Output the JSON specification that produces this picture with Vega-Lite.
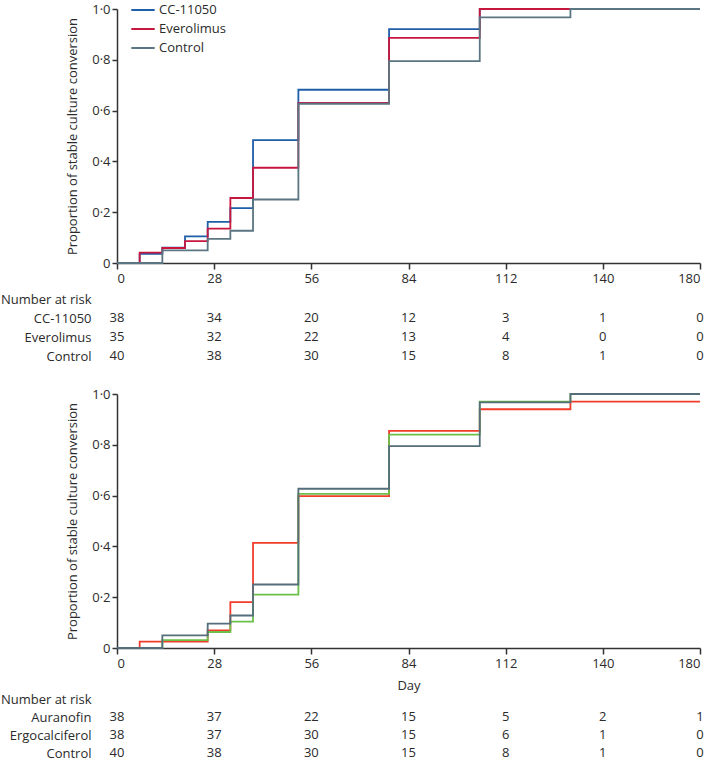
{
  "$schema": "https://vega.github.io/schema/vega-lite/v6.json",
  "padding": {"left": 0, "top": 2, "right": 2, "bottom": 0},
  "bounds": "flush",
  "spacing": 10,
  "config": {
    "view": {"stroke": null},
    "font": "Open Sans",
    "axis": {
      "labelFont": "Open Sans", "titleFont": "Open Sans",
      "labelFontSize": 13, "titleFontSize": 13,
      "labelColor": "#2b2b2b", "titleColor": "#2b2b2b",
      "titleFontWeight": "normal",
      "domainColor": "#333333", "tickColor": "#333333",
      "domainWidth": 1.5, "tickWidth": 1.5, "grid": false
    },
    "legend": {
      "labelFont": "Open Sans", "labelFontSize": 13, "labelColor": "#2b2b2b",
      "orient": "none", "legendX": 18.5, "legendY": -6.5,
      "symbolType": "M-1.8,0H1.8", "symbolSize": 169, "symbolStrokeWidth": 2,
      "rowPadding": 4, "padding": 0, "labelOffset": 8.5, "title": null
    }
  },
  "resolve": {
    "scale": {"x": "independent", "y": "independent", "color": "independent", "stroke": "independent"},
    "legend": {"color": "independent", "stroke": "independent"}
  },
  "datasets": {
    "top": [
      {"group": "CC-11050", "day": 0, "proportion": 0},
      {"group": "CC-11050", "day": 7, "proportion": 0.036},
      {"group": "CC-11050", "day": 14, "proportion": 0.06},
      {"group": "CC-11050", "day": 21, "proportion": 0.105},
      {"group": "CC-11050", "day": 28, "proportion": 0.162},
      {"group": "CC-11050", "day": 35, "proportion": 0.216},
      {"group": "CC-11050", "day": 42, "proportion": 0.484},
      {"group": "CC-11050", "day": 56, "proportion": 0.682},
      {"group": "CC-11050", "day": 84, "proportion": 0.921},
      {"group": "CC-11050", "day": 112, "proportion": 1.0},
      {"group": "CC-11050", "day": 180, "proportion": 1.0},
      {"group": "Everolimus", "day": 0, "proportion": 0},
      {"group": "Everolimus", "day": 7, "proportion": 0.041},
      {"group": "Everolimus", "day": 14, "proportion": 0.059},
      {"group": "Everolimus", "day": 21, "proportion": 0.086},
      {"group": "Everolimus", "day": 28, "proportion": 0.135},
      {"group": "Everolimus", "day": 35, "proportion": 0.256},
      {"group": "Everolimus", "day": 42, "proportion": 0.375},
      {"group": "Everolimus", "day": 56, "proportion": 0.63},
      {"group": "Everolimus", "day": 84, "proportion": 0.886},
      {"group": "Everolimus", "day": 112, "proportion": 1.0},
      {"group": "Everolimus", "day": 180, "proportion": 1.0},
      {"group": "Control", "day": 0, "proportion": 0},
      {"group": "Control", "day": 14, "proportion": 0.05},
      {"group": "Control", "day": 28, "proportion": 0.095},
      {"group": "Control", "day": 35, "proportion": 0.127},
      {"group": "Control", "day": 42, "proportion": 0.25},
      {"group": "Control", "day": 56, "proportion": 0.627},
      {"group": "Control", "day": 84, "proportion": 0.795},
      {"group": "Control", "day": 112, "proportion": 0.967},
      {"group": "Control", "day": 140, "proportion": 1.0},
      {"group": "Control", "day": 180, "proportion": 1.0}
    ],
    "bottom": [
      {"group": "Auranofin", "day": 0, "proportion": 0},
      {"group": "Auranofin", "day": 7, "proportion": 0.025},
      {"group": "Auranofin", "day": 28, "proportion": 0.069},
      {"group": "Auranofin", "day": 35, "proportion": 0.181},
      {"group": "Auranofin", "day": 42, "proportion": 0.414},
      {"group": "Auranofin", "day": 56, "proportion": 0.598},
      {"group": "Auranofin", "day": 84, "proportion": 0.855},
      {"group": "Auranofin", "day": 112, "proportion": 0.94},
      {"group": "Auranofin", "day": 140, "proportion": 0.97},
      {"group": "Auranofin", "day": 180, "proportion": 0.97},
      {"group": "Ergocalciferol", "day": 0, "proportion": 0},
      {"group": "Ergocalciferol", "day": 14, "proportion": 0.031},
      {"group": "Ergocalciferol", "day": 28, "proportion": 0.063},
      {"group": "Ergocalciferol", "day": 35, "proportion": 0.104},
      {"group": "Ergocalciferol", "day": 42, "proportion": 0.21},
      {"group": "Ergocalciferol", "day": 56, "proportion": 0.607},
      {"group": "Ergocalciferol", "day": 84, "proportion": 0.84},
      {"group": "Ergocalciferol", "day": 112, "proportion": 0.97},
      {"group": "Ergocalciferol", "day": 140, "proportion": 1.0},
      {"group": "Ergocalciferol", "day": 180, "proportion": 1.0},
      {"group": "Control", "day": 0, "proportion": 0},
      {"group": "Control", "day": 14, "proportion": 0.05},
      {"group": "Control", "day": 28, "proportion": 0.096},
      {"group": "Control", "day": 35, "proportion": 0.128},
      {"group": "Control", "day": 42, "proportion": 0.25},
      {"group": "Control", "day": 56, "proportion": 0.627},
      {"group": "Control", "day": 84, "proportion": 0.795},
      {"group": "Control", "day": 112, "proportion": 0.967},
      {"group": "Control", "day": 140, "proportion": 1.0},
      {"group": "Control", "day": 180, "proportion": 1.0}
    ],
    "riskTop": [
      {"group": "CC-11050", "day": 0, "n": 38}, {"group": "CC-11050", "day": 28, "n": 34}, {"group": "CC-11050", "day": 56, "n": 20}, {"group": "CC-11050", "day": 84, "n": 12}, {"group": "CC-11050", "day": 112, "n": 3}, {"group": "CC-11050", "day": 140, "n": 1}, {"group": "CC-11050", "day": 180, "n": 0},
      {"group": "Everolimus", "day": 0, "n": 35}, {"group": "Everolimus", "day": 28, "n": 32}, {"group": "Everolimus", "day": 56, "n": 22}, {"group": "Everolimus", "day": 84, "n": 13}, {"group": "Everolimus", "day": 112, "n": 4}, {"group": "Everolimus", "day": 140, "n": 0}, {"group": "Everolimus", "day": 180, "n": 0},
      {"group": "Control", "day": 0, "n": 40}, {"group": "Control", "day": 28, "n": 38}, {"group": "Control", "day": 56, "n": 30}, {"group": "Control", "day": 84, "n": 15}, {"group": "Control", "day": 112, "n": 8}, {"group": "Control", "day": 140, "n": 1}, {"group": "Control", "day": 180, "n": 0}
    ],
    "riskBottom": [
      {"group": "Auranofin", "day": 0, "n": 38}, {"group": "Auranofin", "day": 28, "n": 37}, {"group": "Auranofin", "day": 56, "n": 22}, {"group": "Auranofin", "day": 84, "n": 15}, {"group": "Auranofin", "day": 112, "n": 5}, {"group": "Auranofin", "day": 140, "n": 2}, {"group": "Auranofin", "day": 180, "n": 1},
      {"group": "Ergocalciferol", "day": 0, "n": 38}, {"group": "Ergocalciferol", "day": 28, "n": 37}, {"group": "Ergocalciferol", "day": 56, "n": 30}, {"group": "Ergocalciferol", "day": 84, "n": 15}, {"group": "Ergocalciferol", "day": 112, "n": 6}, {"group": "Ergocalciferol", "day": 140, "n": 1}, {"group": "Ergocalciferol", "day": 180, "n": 0},
      {"group": "Control", "day": 0, "n": 40}, {"group": "Control", "day": 28, "n": 38}, {"group": "Control", "day": 56, "n": 30}, {"group": "Control", "day": 84, "n": 15}, {"group": "Control", "day": 112, "n": 8}, {"group": "Control", "day": 140, "n": 1}, {"group": "Control", "day": 180, "n": 0}
    ]
  },
  "vconcat": [
    {
      "width": 583, "height": 254,
      "data": {"name": "top"},
      "mark": {"type": "line", "interpolate": "step-after", "strokeWidth": 1.8},
      "encoding": {
        "x": {"field": "day", "type": "quantitative",
          "scale": {"domain": [0, 180], "nice": false, "zero": false},
          "axis": {"values": [0, 30, 60, 90, 120, 150, 180], "labelExpr": "datum.value == 180 ? '180' : format(datum.value * 28 / 30, 'd')", "title": null, "tickSize": 6, "labelPadding": 3}},
        "y": {"field": "proportion", "type": "quantitative",
          "scale": {"domain": [0, 1], "nice": false},
          "axis": {"values": [0, 0.2, 0.4, 0.6, 0.8, 1], "labelExpr": "datum.value == 0 ? '0' : replace(format(datum.value, '.1f'), '.', '·')", "title": "Proportion of stable culture conversion", "tickSize": 5, "labelPadding": 2, "titlePadding": 12}},
        "color": {"field": "group", "type": "nominal",
          "scale": {"domain": ["CC-11050", "Everolimus", "Control"], "range": ["#1f5ea8", "#c8173f", "#5b7682"]},
          "legend": {}}
      }
    },
    {
      "width": 583, "height": 111,
      "data": {"name": "riskTop"},
      "mark": {"type": "text", "fontSize": 13, "color": "#2b2b2b", "font": "Open Sans", "align": "center", "baseline": "middle"},
      "encoding": {
        "x": {"field": "day", "type": "ordinal", "sort": "ascending", "scale": {"type": "point", "padding": 0}, "axis": null},
        "y": {"field": "group", "type": "nominal", "sort": ["CC-11050", "Everolimus", "Control"],
          "scale": {"type": "point", "padding": 0, "range": [45, 83]},
          "axis": {"title": "Number at risk", "titleAngle": 0, "titleAlign": "right", "titleBaseline": "middle", "titleX": -26, "titleY": 26, "domain": false, "ticks": false, "tickSize": 0, "labelPadding": 26}},
        "text": {"field": "n", "type": "quantitative"}
      }
    },
    {
      "width": 583, "height": 254,
      "data": {"name": "bottom"},
      "layer": [
        {
          "mark": {"type": "line", "interpolate": "step-after", "strokeWidth": 1.8},
          "encoding": {
            "x": {"field": "day", "type": "quantitative",
              "scale": {"domain": [0, 180], "nice": false, "zero": false},
              "axis": {"values": [0, 30, 60, 90, 120, 150, 180], "labelExpr": "datum.value == 180 ? '180' : format(datum.value * 28 / 30, 'd')", "title": "Day", "tickSize": 6, "labelPadding": 3, "titlePadding": 9}},
            "y": {"field": "proportion", "type": "quantitative",
              "scale": {"domain": [0, 1], "nice": false},
              "axis": {"values": [0, 0.2, 0.4, 0.6, 0.8, 1], "labelExpr": "datum.value == 0 ? '0' : replace(format(datum.value, '.1f'), '.', '·')", "title": "Proportion of stable culture conversion", "tickSize": 5, "labelPadding": 2, "titlePadding": 12}},
            "stroke": {"field": "group", "type": "nominal",
              "scale": {"domain": ["Auranofin", "Ergocalciferol", "Control"], "range": ["#f23c2b", "#6cbf4a", "#546e7a"]},
              "legend": null}
          }
        },
        {
          "mark": {"type": "line", "interpolate": "step-after", "opacity": 0},
          "encoding": {
            "x": {"field": "day", "type": "quantitative"},
            "y": {"field": "proportion", "type": "quantitative"},
            "color": {"field": "group", "type": "nominal",
              "scale": {"domain": ["Auranofin", "Ergocalciferol", "Control"], "range": ["#f6a12c", "#6cbf4a", "#546e7a"]},
              "legend": {"symbolOpacity": 1}}
          }
        }
      ]
    },
    {
      "width": 583, "height": 100,
      "data": {"name": "riskBottom"},
      "mark": {"type": "text", "fontSize": 13, "color": "#2b2b2b", "font": "Open Sans", "align": "center", "baseline": "middle"},
      "encoding": {
        "x": {"field": "day", "type": "ordinal", "sort": "ascending", "scale": {"type": "point", "padding": 0}, "axis": null},
        "y": {"field": "group", "type": "nominal", "sort": ["Auranofin", "Ergocalciferol", "Control"],
          "scale": {"type": "point", "padding": 0, "range": [59, 95]},
          "axis": {"title": "Number at risk", "titleAngle": 0, "titleAlign": "right", "titleBaseline": "middle", "titleX": -26, "titleY": 41, "domain": false, "ticks": false, "tickSize": 0, "labelPadding": 26}},
        "text": {"field": "n", "type": "quantitative"}
      }
    }
  ]
}
